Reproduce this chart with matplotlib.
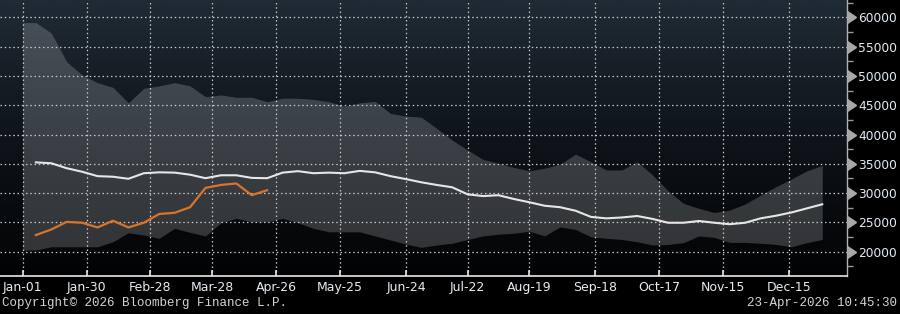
import numpy as np
import matplotlib
matplotlib.use("Agg")
import matplotlib.pyplot as plt
from matplotlib import markers
from matplotlib.colors import LinearSegmentedColormap

# weekly observations, day-of-year (first week ends Jan-07)
week_days = [6 + 7 * k for k in range(52)]

band_max = [59100, 57300, 52400, 50150, 48850, 48050, 45400, 47900, 48300, 48850,
            48300, 46450, 46750, 46350, 46350, 45600, 46200, 46200, 46000, 45600,
            44850, 45400, 45650, 43600, 43150, 42950, 41050, 39050, 37350, 35750,
            35100, 34400, 33800, 34250, 34950, 36650, 35350, 33950, 33950, 35350,
            33100, 30400, 28250, 27400, 26700, 27100, 28150, 29650, 31100, 32400,
            33800, 34700]

band_min = [20300, 20850, 20850, 20850, 20850, 21700, 23250, 22850, 22300, 24000,
            23300, 22700, 24950, 25700, 25100, 25100, 25700, 24950, 24000, 23400,
            23400, 23400, 22700, 22000, 21300, 20750, 21150, 21450, 22100, 22700,
            23000, 23150, 23500, 22700, 24250, 23800, 22550, 22300, 22100, 21700,
            21150, 21250, 21550, 22700, 22450, 21600, 21600, 21450, 21250, 20850,
            21550, 22100]

avg = [35250, 35100, 34250, 33650, 32900, 32800, 32450, 33400, 33550, 33500,
       33150, 32550, 33050, 33050, 32600, 32550, 33500, 33750, 33400, 33500,
       33400, 33800, 33550, 32900, 32400, 31850, 31400, 31000, 29800, 29500,
       29650, 29000, 28450, 27850, 27600, 27000, 25950, 25700, 25850, 26100,
       25600, 24950, 24950, 25250, 24950, 24700, 24950, 25700, 26150, 26700,
       27400, 28100]

current = [22850, 23800, 25100, 24950, 24150, 25300, 24150, 24950, 26450, 26650,
           27600, 30900, 31400, 31650, 29650, 30500]

tick_days = [0, 29, 58, 86, 115, 144, 174, 202, 230, 260, 289, 318, 348]
tick_labels = ["Jan-01", "Jan-30", "Feb-28", "Mar-28", "Apr-26", "May-25", "Jun-24",
               "Jul-22", "Aug-19", "Sep-18", "Oct-17", "Nov-15", "Dec-15"]
y_ticks = [20000, 25000, 30000, 35000, 40000, 45000, 50000, 55000, 60000]

fig = plt.figure(figsize=(9, 3.14), dpi=100, facecolor="black")
ax = fig.add_axes([0.0, 0.1226, 0.941, 0.8774])

xlim = (-10.3, 374.2)
ylim = (15950, 62950)

# gradient background
bg = LinearSegmentedColormap.from_list("bg", ["#020304", "#0e1419", "#1f2b35"])
grad = np.linspace(0, 1, 256).reshape(-1, 1)
ax.imshow(grad, cmap=bg, origin="lower", aspect="auto",
          extent=[xlim[0], xlim[1], ylim[0], ylim[1]], zorder=0)

# range band, stretched back to Jan-01
bx = np.r_[0, week_days]
ax.fill_between(bx, np.r_[band_min[0], band_min], np.r_[band_max[0], band_max],
                color="#d8dde2", alpha=0.22, lw=0, zorder=1)

ax.plot(week_days, avg, color="#e6e6e6", lw=1.5, zorder=3)
ax.plot(week_days[:len(current)], current, color="#d9742c", lw=1.6, zorder=4)

ax.set_xlim(xlim)
ax.set_ylim(ylim)

ax.set_xticks(tick_days)
ax.set_xticklabels(tick_labels)
ax.set_yticks(y_ticks)
ax.set_yticks(np.arange(17500, 62600, 5000), minor=True)

ax.grid(True, which="major", color="#c8c8c8", ls=(0, (1.2, 2.2)), lw=0.9, zorder=2)
ax.set_axisbelow(False)

for s in ["left", "top"]:
    ax.spines[s].set_visible(False)
ax.spines["bottom"].set_color("#e8e8e8")
ax.spines["bottom"].set_linewidth(1.2)
ax.spines["right"].set_color("#b4b4b4")
ax.spines["right"].set_linewidth(1.0)

ax.yaxis.tick_right()
ax.tick_params(axis="y", which="major", length=0, pad=8, labelsize=8.8,
               labelcolor="#e4ecf4")
ax.tick_params(axis="y", which="minor", direction="out", length=4, width=1,
               color="#9a9a9a")
ax.tick_params(axis="x", which="major", direction="in", length=4, width=1.2,
               color="#e8e8e8", pad=4, labelsize=9, labelcolor="#e4ecf4")

# caret markers for the major y ticks
ax.plot([1.0] * len(y_ticks), y_ticks, ls="none", marker=markers.CARETRIGHTBASE,
        ms=9, color="#a8a8a8", transform=ax.get_yaxis_transform(), clip_on=False,
        zorder=5)

fig.text(0.002, 0.035, "Copyright\u00a9 2026 Bloomberg Finance L.P.",
         family="Liberation Mono", fontsize=9, color="#d4d4d4", va="center")
fig.text(0.997, 0.035, "23-Apr-2026 10:45:30", family="Liberation Mono",
         fontsize=9, color="#d4d4d4", va="center", ha="right")

fig.savefig("out.png", dpi=100, facecolor="black")
